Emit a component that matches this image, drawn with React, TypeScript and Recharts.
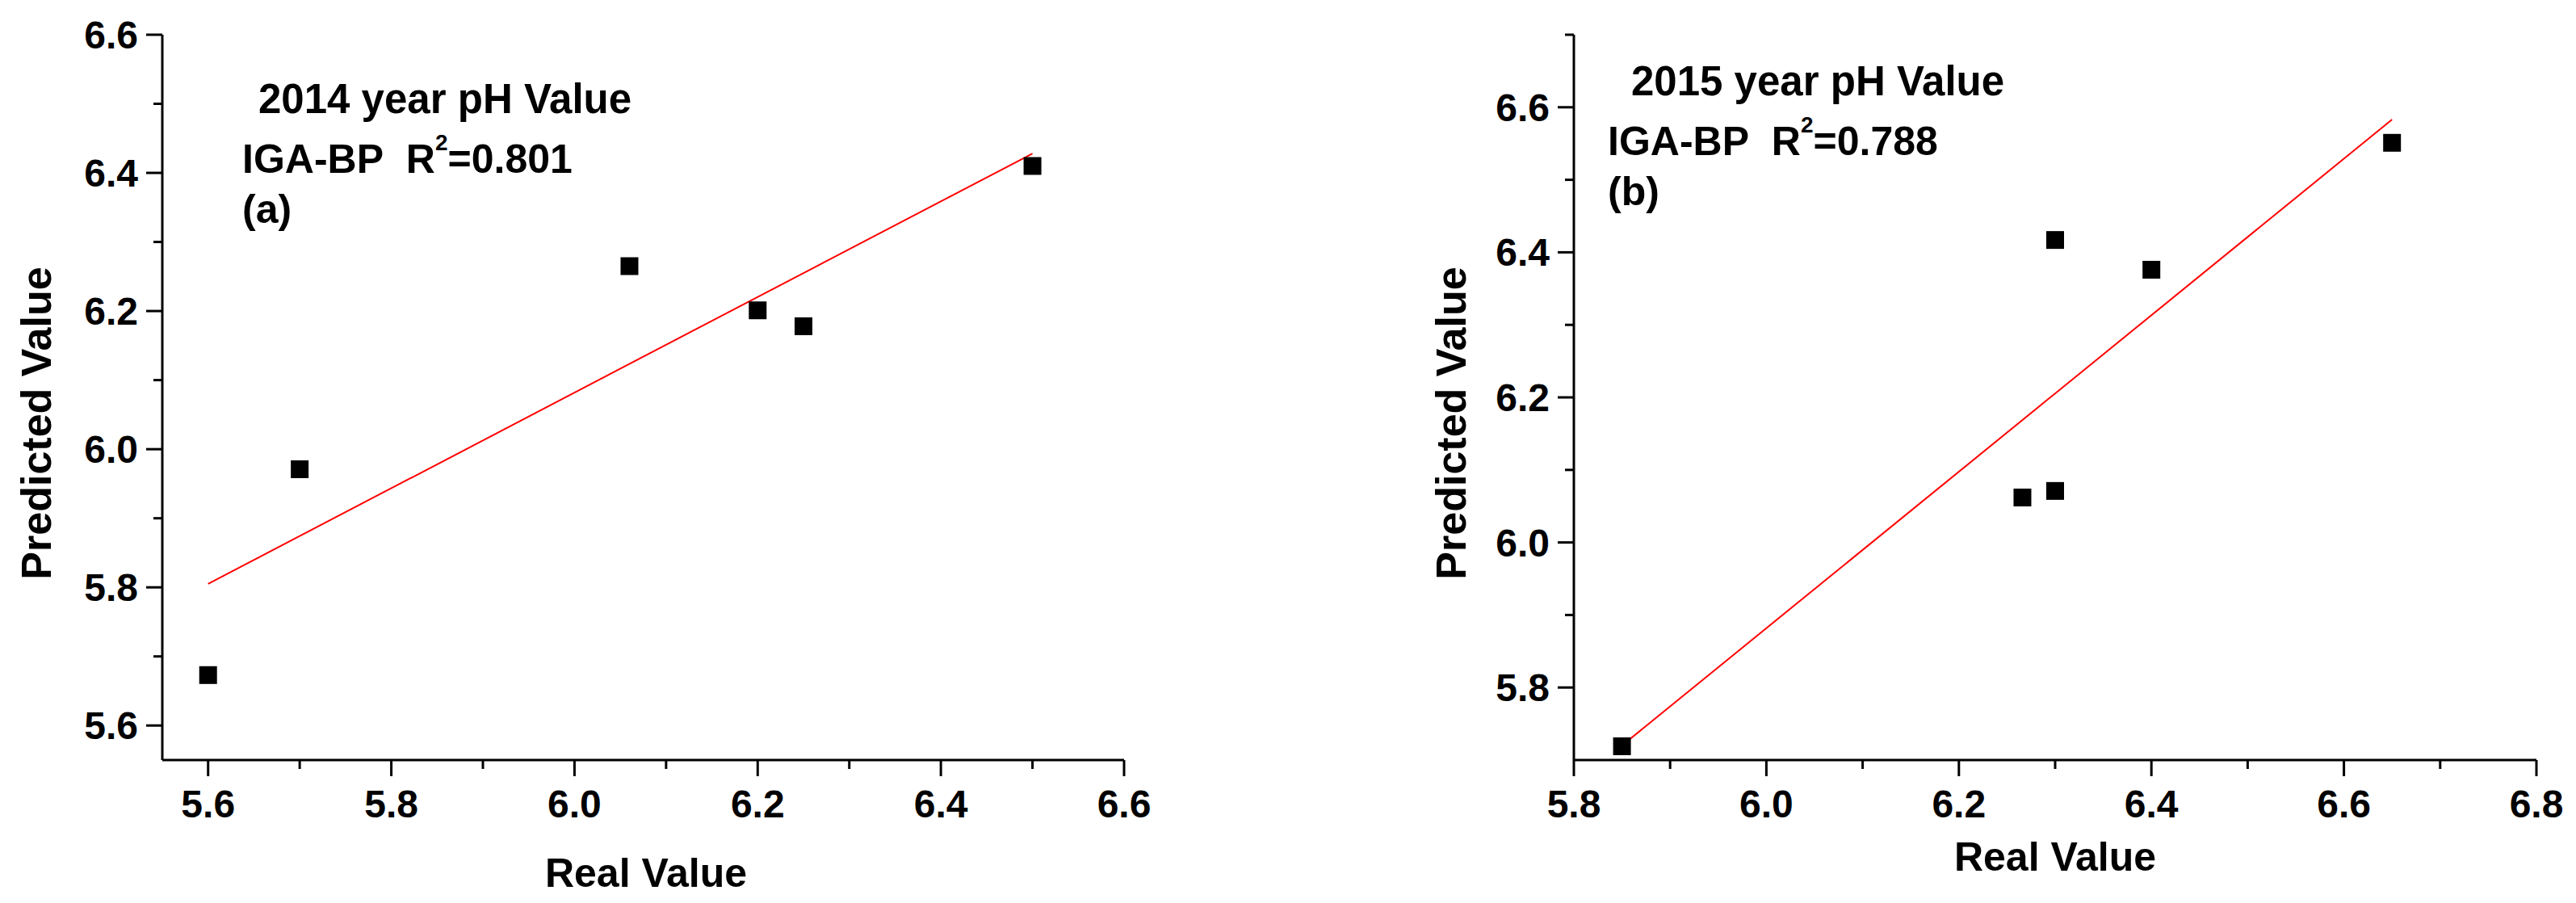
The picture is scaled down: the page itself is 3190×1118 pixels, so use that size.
import { ScatterChart, Scatter, XAxis, YAxis, ReferenceLine } from "recharts";

const FONT = "'Liberation Sans', Arial, Helvetica, sans-serif";

// (a) 2014
const real2014 = [5.6, 5.7, 6.06, 6.2, 6.25, 6.5];
const pred2014 = [5.673, 5.971, 6.265, 6.201, 6.178, 6.41];
const fitX2014 = [5.6, 6.5];
const fitY2014 = [5.805, 6.428];
const xTicks2014 = [5.6, 5.7, 5.8, 5.9, 6.0, 6.1, 6.2, 6.3, 6.4, 6.5, 6.6];
const yTicks2014 = [5.6, 5.7, 5.8, 5.9, 6.0, 6.1, 6.2, 6.3, 6.4, 6.5, 6.6];

// (b) 2015
const real2015 = [5.85, 6.266, 6.3, 6.3, 6.4, 6.65];
const pred2015 = [5.719, 6.062, 6.071, 6.417, 6.376, 6.551];
const fitX2015 = [5.85, 6.65];
const fitY2015 = [5.72, 6.583];
const xTicks2015 = [5.8, 5.9, 6.0, 6.1, 6.2, 6.3, 6.4, 6.5, 6.6, 6.7, 6.8];
const yTicks2015 = [5.8, 5.9, 6.0, 6.1, 6.2, 6.3, 6.4, 6.5, 6.6, 6.7];

const isMajor = (v: number) => Math.round(v * 10) % 2 === 0;

function XTick(props: any) {
  const { x, y, payload } = props;
  const v = payload.value as number;
  const major = isMajor(v);
  return (
    <g>
      <line x1={x} y1={y} x2={x} y2={y + (major ? 20 : 11)} stroke="#000" strokeWidth={3} />
      {major && (
        <text x={x} y={y + 71} textAnchor="middle" fontSize={48} fontWeight="bold" fontFamily={FONT} fill="#000">
          {v.toFixed(1)}
        </text>
      )}
    </g>
  );
}

function YTick(props: any) {
  const { x, y, payload } = props;
  const v = payload.value as number;
  const major = isMajor(v);
  return (
    <g>
      <line x1={x - (major ? 20 : 11)} y1={y} x2={x} y2={y} stroke="#000" strokeWidth={3} />
      {major && (
        <text x={x - 30} y={y + 17} textAnchor="end" fontSize={48} fontWeight="bold" fontFamily={FONT} fill="#000">
          {v.toFixed(1)}
        </text>
      )}
    </g>
  );
}

const square = (props: any) => (
  <rect x={props.cx - 11} y={props.cy - 11} width={22} height={22} fill="#000" />
);

interface PanelProps {
  real: number[];
  pred: number[];
  fitX: number[];
  fitY: number[];
  xDomain: [number, number];
  yDomain: [number, number];
  xTicks: number[];
  yTicks: number[];
  title: string;
  r2: string;
  tag: string;
  plotLeft: number;
  plotRight: number;
  yTitleX: number;
  xTitleX: number;
  xTitleY: number;
  titleX: number;
  noteX: number;
  noteY: number;
}

const W = 1595;
const H = 1118;
const TOP = 43;
const BOTTOM = 941;

function Panel(p: PanelProps) {
  const data = p.real.map((r, i) => ({ x: r, y: p.pred[i] }));
  const txt = { fontFamily: FONT, fontWeight: "bold" as const, fill: "#000" };
  return (
    <ScatterChart
      width={W}
      height={H}
      margin={{ top: TOP, right: W - p.plotRight, bottom: H - BOTTOM - 60, left: p.plotLeft - 100 }}
    >
      <XAxis
        type="number"
        dataKey="x"
        domain={p.xDomain}
        ticks={p.xTicks}
        interval={0}
        allowDataOverflow
        height={60}
        tickSize={0}
        tickMargin={0}
        tickLine={false}
        axisLine={{ stroke: "#000", strokeWidth: 3 }}
        tick={XTick}
      />
      <YAxis
        type="number"
        dataKey="y"
        domain={p.yDomain}
        ticks={p.yTicks}
        interval={0}
        allowDataOverflow
        width={100}
        tickSize={0}
        tickMargin={0}
        tickLine={false}
        axisLine={{ stroke: "#000", strokeWidth: 3 }}
        tick={YTick}
      />
      <ReferenceLine
        segment={[
          { x: p.fitX[0], y: p.fitY[0] },
          { x: p.fitX[1], y: p.fitY[1] },
        ]}
        stroke="#ff0000"
        strokeWidth={2}
      />
      <Scatter data={data} shape={square} isAnimationActive={false} />
      <text
        x={p.yTitleX}
        y={524}
        transform={`rotate(-90 ${p.yTitleX} 524)`}
        textAnchor="middle"
        fontSize={52}
        {...txt}
      >
        Predicted Value
      </text>
      <text x={p.xTitleX} y={p.xTitleY} textAnchor="middle" fontSize={50} {...txt}>
        Real Value
      </text>
      <text x={p.titleX} y={p.noteY} fontSize={51} {...txt}>
        {p.title}
      </text>
      <text x={p.noteX} y={p.noteY + 74} fontSize={50} {...txt}>
        {"IGA-BP\u00a0\u00a0R"}
        <tspan fontSize={28} dy={-28}>2</tspan>
        <tspan dy={28}>{"=" + p.r2}</tspan>
      </text>
      <text x={p.noteX} y={p.noteY + 136} fontSize={50} {...txt}>
        {p.tag}
      </text>
    </ScatterChart>
  );
}

export default function App() {
  return (
    <div style={{ position: "absolute", left: 0, top: 0, width: 3190, height: 1118, background: "#fff" }}>
      <div style={{ position: "absolute", left: 0, top: 0 }}>
        <Panel
          real={real2014}
          pred={pred2014}
          fitX={fitX2014}
          fitY={fitY2014}
          xDomain={[5.55, 6.6]}
          yDomain={[5.55, 6.6]}
          xTicks={xTicks2014}
          yTicks={yTicks2014}
          title="2014 year pH Value"
          r2="0.801"
          tag="(a)"
          plotLeft={201}
          plotRight={1392}
          yTitleX={63}
          xTitleX={800}
          xTitleY={1098}
          titleX={320}
          noteX={300}
          noteY={140}
        />
      </div>
      <div style={{ position: "absolute", left: 1595, top: 0 }}>
        <Panel
          real={real2015}
          pred={pred2015}
          fitX={fitX2015}
          fitY={fitY2015}
          xDomain={[5.8, 6.8]}
          yDomain={[5.7, 6.7]}
          xTicks={xTicks2015}
          yTicks={yTicks2015}
          title="2015 year pH Value"
          r2="0.788"
          tag="(b)"
          plotLeft={354}
          plotRight={1546}
          yTitleX={220}
          xTitleX={950}
          xTitleY={1078}
          titleX={425}
          noteX={396}
          noteY={118}
        />
      </div>
    </div>
  );
}
